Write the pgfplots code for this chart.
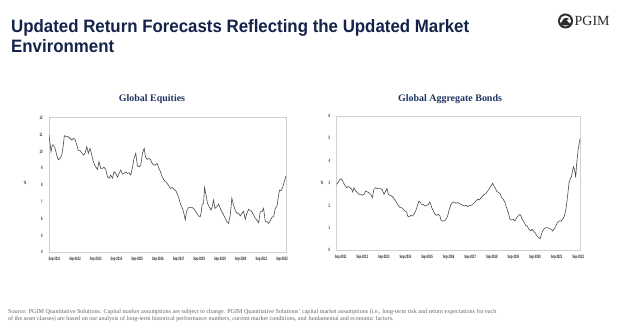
\documentclass[border=0pt]{standalone}
\usepackage{pgfplots}
\pgfplotsset{compat=1.18}
\usepackage{fontspec}
\setmainfont{Liberation Serif}
\newfontfamily\titlefont[FakeStretch=0.94]{Liberation Sans}
\newfontfamily\tickfont[FakeStretch=0.55]{Liberation Sans}
\definecolor{titleblue}{HTML}{14234A}
\definecolor{chartblue}{HTML}{1F3560}
\definecolor{linegray}{HTML}{4A4A4A}
\definecolor{framegray}{HTML}{D0D0D0}
\definecolor{notegray}{HTML}{666666}
\definecolor{logogray}{HTML}{2A2A2A}
\pgfplotsset{
  pgimaxis/.style={
    scale only axis,
    axis line style={draw=framegray, line width=0.6bp},
    major tick length=0pt,
    tick style={draw=none},
    /pgf/number format/assume math mode=true,
    tick label style={font=\tickfont\bfseries\fontsize{4.8}{5}\selectfont, text=black!85},
    xtick={0,12,24,36,48,60,72,84,96,108,120,132},
    xticklabels={Sep-2011,Sep-2012,Sep-2013,Sep-2014,Sep-2015,Sep-2016,Sep-2017,Sep-2018,Sep-2019,Sep-2020,Sep-2021,Sep-2022},
    xticklabel style={yshift=-1.5bp},
    yticklabel style={xshift=-3bp},
  }
}
\begin{document}
\begin{tikzpicture}
\path[use as bounding box, fill=white] (0bp,0bp) rectangle (624bp,330bp);
% title
\node[anchor=base west, inner sep=0, font=\titlefont\bfseries\fontsize{18}{20}\selectfont, text=titleblue] at (11bp,297bp) {Updated Return Forecasts Reflecting the Updated Market};
\node[anchor=base west, inner sep=0, font=\titlefont\bfseries\fontsize{18}{20}\selectfont, text=titleblue] at (11bp,277bp) {Environment};
% logo
\fill[logogray] (565.5bp,309bp) circle (7.5bp);
\fill[white] (565.5bp,309bp) circle (5.6bp);
\fill[logogray] (560bp,304.5bp) -- (561.5bp,308bp) -- (564bp,311.5bp) -- (566.5bp,312.3bp) -- (569bp,311bp) -- (566.5bp,310bp) -- (568.5bp,307.5bp) -- (571bp,305.5bp) -- (571bp,304.5bp) -- cycle;
\node[anchor=west, inner sep=0, font=\fontsize{14}{15}\selectfont, text=logogray] at (574.5bp,309bp) {PGIM};
% chart titles
\node[font=\bfseries\fontsize{10}{11}\selectfont, text=chartblue] at (152bp,231bp) {Global Equities};
\node[font=\bfseries\fontsize{10}{11}\selectfont, text=chartblue] at (450bp,231bp) {Global Aggregate Bonds};
\node[font=\tickfont\bfseries\fontsize{5}{5}\selectfont, text=black!85] at (25bp,147bp) {\%};
\node[font=\tickfont\bfseries\fontsize{5}{5}\selectfont, text=black!85] at (322bp,147bp) {\%};
% left axis
\begin{axis}[pgimaxis, at={(49bp,77.7bp)}, anchor=south west, width=237bp, height=134.6bp,
  xmin=-3.1, xmax=134.3, ymin=4, ymax=12, ytick={4,5,6,7,8,9,10,11,12}]
\addplot[color=linegray, line width=0.6bp, no marks] coordinates {
(-3.1,10.97) (-1.9,9.98) (-1.2,10.38) (-0.6,10.38) (0.4,10.18) (1.4,9.78) (2.3,9.49) (3.3,9.58) (4.3,9.78) (5.2,10.38) (5.8,10.93) (7.2,10.87) (8.1,10.87) (9.1,10.77) (10.1,10.67) (11.0,10.77) (12.0,10.71) (13.0,10.38) (13.9,10.04) (14.9,10.04) (15.9,9.92) (16.8,9.78) (17.8,9.88) (18.8,10.28) (19.7,9.88) (20.7,10.18) (21.7,9.78) (22.6,9.39) (23.6,9.13) (25.0,8.93) (25.9,9.39) (26.9,8.99) (27.9,8.99) (28.8,9.05) (29.8,8.93) (30.8,8.50) (31.7,8.40) (32.7,8.59) (33.7,8.40) (34.6,8.79) (35.6,8.69) (36.6,8.46) (37.5,8.69) (38.5,8.89) (39.5,8.65) (40.4,8.69) (41.4,8.77) (42.4,8.69) (43.3,8.73) (44.3,8.59) (45.3,9.05) (46.2,9.58) (47.2,9.88) (48.2,9.13) (49.2,9.09) (50.1,9.19) (51.1,9.88) (52.1,10.18) (52.8,9.68) (53.8,9.52) (54.8,9.58) (55.7,9.52) (56.7,9.29) (57.7,9.19) (58.6,9.19) (59.6,9.29) (60.6,8.99) (61.5,8.79) (62.5,8.50) (63.5,8.30) (64.4,8.20) (65.4,8.10) (66.4,7.94) (67.3,7.80) (68.3,7.86) (69.3,7.74) (70.2,7.70) (71.2,7.50) (72.2,7.21) (73.1,6.87) (74.3,6.61) (75.1,6.32) (75.9,5.92) (76.6,6.42) (77.8,6.67) (78.8,6.67) (79.7,6.67) (80.7,6.61) (81.7,6.46) (82.6,6.32) (83.6,6.16) (84.6,6.12) (85.2,6.42) (85.7,6.87) (86.5,6.91) (87.1,7.86) (87.9,7.41) (88.8,6.91) (89.8,6.71) (90.8,6.51) (91.5,6.71) (92.3,7.11) (93.1,6.61) (94.2,6.71) (95.2,6.87) (96.2,6.61) (97.1,6.42) (98.1,6.22) (99.1,6.02) (100.0,5.82) (101.0,5.72) (102.0,6.22) (102.9,7.21) (103.9,6.81) (104.9,6.48) (105.8,6.32) (106.8,6.32) (107.8,6.16) (108.7,6.32) (109.7,6.42) (110.7,5.96) (111.6,6.32) (112.6,6.55) (113.6,6.48) (114.5,6.42) (115.5,6.22) (116.5,6.02) (117.4,5.92) (118.4,5.76) (119.4,6.42) (120.4,6.42) (121.3,6.61) (122.3,5.82) (123.3,5.82) (124.2,5.72) (125.2,5.88) (126.2,6.08) (127.1,6.12) (128.1,6.61) (129.1,6.75) (130.0,7.41) (130.6,7.70) (131.4,7.66) (132.4,7.86) (133.3,8.20) (134.3,8.53)
};
\end{axis}
% right axis
\begin{axis}[pgimaxis, at={(336.7bp,80bp)}, anchor=south west, width=243.3bp, height=134bp,
  xmin=-2.2, xmax=133.0, ymin=0, ymax=6, ytick={0,1,2,3,4,5,6}]
\addplot[color=linegray, line width=0.6bp, no marks] coordinates {
(-2.2,2.94) (-1.3,3.04) (-0.4,3.16) (0.6,3.19) (1.5,3.01) (2.4,2.90) (3.3,2.79) (4.3,2.84) (5.2,2.79) (6.1,2.72) (6.7,2.60) (7.4,2.79) (8.3,2.64) (9.3,2.57) (10.2,2.49) (11.1,2.49) (12.0,2.45) (13.0,2.49) (13.9,2.64) (14.8,2.60) (15.7,2.57) (16.7,2.49) (17.6,2.34) (18.5,2.72) (19.4,2.79) (20.4,2.75) (21.3,2.75) (22.2,2.75) (23.2,2.69) (24.1,2.49) (25.0,2.64) (25.7,2.75) (26.5,2.49) (27.4,2.45) (28.3,2.42) (29.3,2.34) (30.2,2.24) (31.1,2.12) (32.0,2.00) (33.0,1.90) (33.9,1.90) (34.8,1.82) (35.7,1.75) (36.7,1.70) (37.2,1.52) (38.0,1.49) (38.9,1.55) (39.8,1.52) (40.7,1.60) (41.7,1.75) (42.6,1.97) (43.5,2.19) (44.1,2.15) (45.0,2.04) (45.9,2.04) (46.9,1.97) (47.8,2.00) (48.7,2.04) (49.6,2.15) (50.6,1.90) (51.5,1.75) (52.4,1.60) (53.3,1.55) (54.3,1.60) (55.2,1.52) (55.7,1.34) (56.7,1.30) (57.6,1.30) (58.5,1.37) (59.4,1.52) (60.4,1.82) (61.3,2.04) (62.2,2.12) (63.2,2.15) (64.1,2.09) (65.0,2.12) (65.9,2.09) (66.9,2.04) (67.8,2.00) (68.7,1.97) (69.6,2.00) (70.6,1.94) (71.5,2.00) (72.4,2.00) (73.3,2.04) (74.3,2.12) (75.2,2.19) (76.1,2.27) (77.0,2.24) (78.0,2.34) (78.9,2.42) (79.8,2.49) (80.7,2.52) (81.7,2.64) (82.6,2.75) (83.5,2.87) (84.5,2.99) (85.0,2.90) (85.7,2.79) (86.7,2.64) (87.6,2.57) (88.5,2.54) (89.5,2.34) (90.4,2.27) (91.3,2.12) (92.2,1.90) (93.2,1.67) (94.1,1.37) (95.0,1.34) (95.9,1.37) (96.9,1.30) (97.8,1.45) (98.7,1.52) (99.6,1.60) (100.2,1.52) (100.9,1.37) (101.9,1.25) (102.8,1.10) (103.7,1.07) (104.6,0.93) (105.6,0.85) (106.3,0.93) (107.2,0.85) (108.2,0.75) (109.1,0.63) (110.0,0.55) (110.9,0.51) (111.3,0.63) (112.2,0.85) (113.2,0.96) (114.1,1.00) (115.0,1.00) (115.9,0.97) (116.9,0.93) (117.8,0.85) (118.7,0.96) (119.6,1.07) (120.6,1.25) (121.5,1.30) (122.4,1.30) (123.3,1.37) (124.3,1.52) (125.2,1.82) (126.1,2.42) (126.9,3.01) (127.6,3.19) (128.3,3.31) (129.3,3.73) (130.0,3.61) (130.6,3.24) (131.1,3.84) (132.0,4.51) (133.0,4.99)
};
\end{axis}
% footnote
\node[anchor=base west, inner sep=0, font=\fontsize{6.1}{6.5}\selectfont, text=notegray] at (8bp,17bp) {Source: PGIM Quantitative Solutions. Capital market assumptions are subject to change. PGIM Quantitative Solutions' capital market assumptions (i.e., long-term risk and return expectations for each};
\node[anchor=base west, inner sep=0, font=\fontsize{6.1}{6.5}\selectfont, text=notegray] at (8bp,10bp) {of the asset classes) are based on our analysis of long-term historical performance numbers, current market conditions, and fundamental and economic factors.};
\end{tikzpicture}
\end{document}
